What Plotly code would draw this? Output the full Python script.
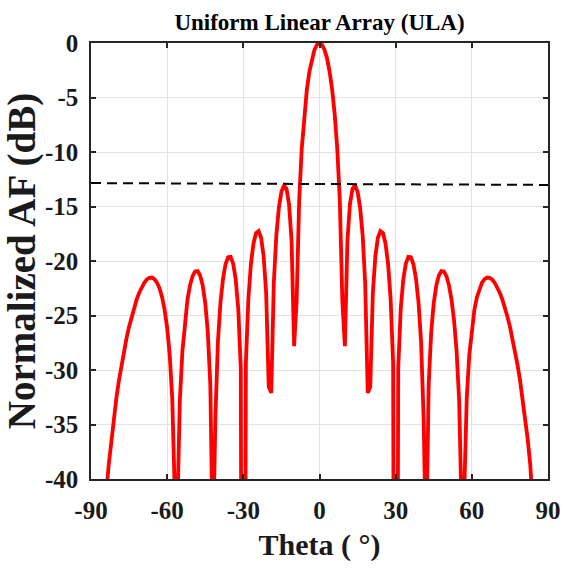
import plotly.graph_objects as go

theta_deg = list(range(-90, 91))
af_db = [
    -120, -72.46, -60.39, -53.34, -48.34, -44.48, -41.32, -38.66, -36.36, -34.35,
    -32.56, -30.96, -29.53, -28.24, -27.07, -26.02, -25.09, -24.25, -23.52, -22.91,
    -22.39, -21.99, -21.70, -21.54, -21.52, -21.66, -21.98, -22.51, -23.32, -24.49,
    -26.15, -28.61, -32.58, -41.26, -43.13, -32.79, -28.27, -25.46, -23.54, -22.23,
    -21.39, -20.96, -20.93, -21.33, -22.25, -23.85, -26.50, -31.36, -46.90, -34.29,
    -27.37, -23.80, -21.62, -20.30, -19.65, -19.62, -20.24, -21.69, -24.40, -29.84,
    -120, -29.34, -23.42, -20.25, -18.39, -17.43, -17.25, -17.87, -19.55, -22.98,
    -31.52, -32.10, -22.04, -17.64, -15.10, -13.65, -13.07, -13.37, -14.79, -18.13,
    -27.82, -23.65, -14.41, -9.70, -6.56, -4.31, -2.65, -1.45, -0.63, -0.16,
    0.00,
    -0.16, -0.63, -1.45, -2.65, -4.31, -6.56, -9.70, -14.41, -23.65, -27.82,
    -18.13, -14.79, -13.37, -13.07, -13.65, -15.10, -17.64, -22.04, -32.10, -31.52,
    -22.98, -19.55, -17.87, -17.25, -17.43, -18.39, -20.25, -23.42, -29.34, -120,
    -29.84, -24.40, -21.69, -20.24, -19.62, -19.65, -20.30, -21.62, -23.80, -27.37,
    -34.29, -46.90, -31.36, -26.50, -23.85, -22.25, -21.33, -20.93, -20.96, -21.39,
    -22.23, -23.54, -25.46, -28.27, -32.79, -43.13, -41.26, -32.58, -28.61, -26.15,
    -24.49, -23.32, -22.51, -21.98, -21.66, -21.52, -21.54, -21.70, -21.99, -22.39,
    -22.91, -23.52, -24.25, -25.09, -26.02, -27.07, -28.24, -29.53, -30.96, -32.56,
    -34.35, -36.36, -38.66, -41.32, -44.48, -48.34, -53.34, -60.39, -72.46, -120,
]

# First side-lobe level reference line
sll_theta = [-90, 90]
sll_db = [-12.85, -13.02]

x_tickvals = [-90, -60, -30, 0, 30, 60, 90]
x_ticktext = ["-90", "-60", "-30", "0", "30", "60", "90"]
y_tickvals = [0, -5, -10, -15, -20, -25, -30, -35, -40]
y_ticktext = ["0", "-5", "-10", "-15", "-20", "-25", "-30", "-35", "-40"]

FONT = "Liberation Serif"

fig = go.Figure()
fig.add_trace(go.Scatter(
    x=theta_deg, y=af_db, mode="lines",
    line=dict(color="#ff0000", width=3.8),
    showlegend=False,
))
fig.add_trace(go.Scatter(
    x=sll_theta, y=sll_db, mode="lines",
    line=dict(color="black", width=2, dash="10px,6px"),
    showlegend=False,
))

axis_common = dict(
    showgrid=True, gridcolor="#e3e3e3", gridwidth=1,
    showline=True, linecolor="#262626", linewidth=1.5, mirror="ticks",
    ticks="inside", ticklen=5, tickcolor="#262626", tickwidth=1.5,
    zeroline=False, automargin=False,
    tickfont=dict(family=FONT, size=25, color="#1a1a1a", weight="bold"),
)

fig.update_layout(
    width=564, height=568,
    margin=dict(l=91, r=16, t=43, b=89, autoexpand=False),
    paper_bgcolor="white", plot_bgcolor="white",
    title=dict(
        text="Uniform Linear Array (ULA)",
        font=dict(family=FONT, size=23, color="black", weight="bold"),
        x=0.5, xanchor="center", xref="paper",
        y=1 - 22 / 568, yref="container", yanchor="middle",
        automargin=False,
    ),
    xaxis=dict(
        range=[-90, 90], tickvals=x_tickvals, ticktext=x_ticktext,
        ticklabelstandoff=8,
        title=dict(text="Theta ( °)", standoff=11,
                   font=dict(family=FONT, size=30, color="#1a1a1a", weight="bold")),
        **axis_common,
    ),
    yaxis=dict(
        range=[-40, 0], tickvals=y_tickvals, ticktext=y_ticktext,
        ticklabelstandoff=6,
        title=dict(text="Normalized AF (dB)", standoff=4,
                   font=dict(family=FONT, size=39, color="#1a1a1a", weight="bold")),
        **axis_common,
    ),
)

fig.write_html(
    "out.html",
    config={"displayModeBar": False},
    post_script="document.body.style.margin='0';document.body.style.overflow='hidden';",
)
